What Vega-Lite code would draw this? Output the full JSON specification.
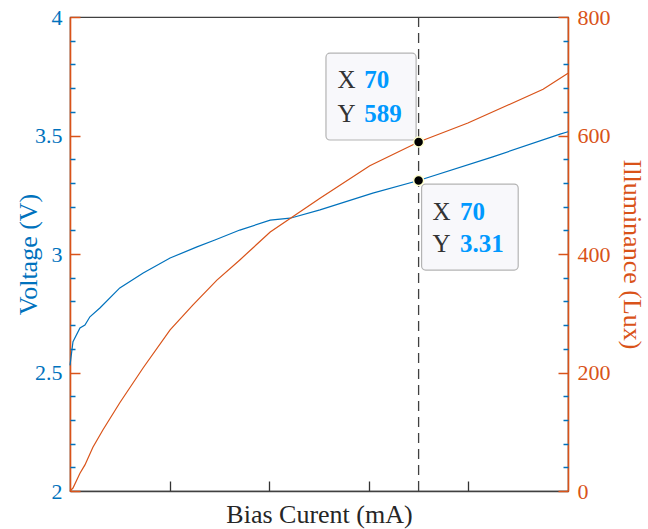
{
  "$schema": "https://vega.github.io/schema/vega-lite/v6.json",
  "width": 498,
  "height": 474,
  "autosize": {"type": "none"},
  "padding": {"left": 70, "top": 17, "right": 80, "bottom": 38},
  "config": {
    "view": {"stroke": "#404040", "strokeWidth": 1.2},
    "font": "Liberation Serif",
    "axis": {"grid": false, "labelFont": "Liberation Serif", "titleFont": "Liberation Serif", "labelFontSize": 22, "titleFontSize": 26, "titleFontWeight": "normal"},
    "axisX": {"labels": false, "tickSize": -10, "tickColor": "#333333", "tickWidth": 1.3, "domainColor": "#404040", "domainWidth": 1.3, "titleColor": "#262626", "titlePadding": 10, "titleFontSize": 26}
  },
  "datasets": {
    "volt": [
      {"I": 0, "V": 2.53}, {"I": 0.6, "V": 2.63}, {"I": 2.0, "V": 2.688}, {"I": 3.0, "V": 2.70},
      {"I": 4.0, "V": 2.735}, {"I": 6.0, "V": 2.772}, {"I": 10.0, "V": 2.857}, {"I": 14.7, "V": 2.92},
      {"I": 20.1, "V": 2.983}, {"I": 25.5, "V": 3.03}, {"I": 29.1, "V": 3.059}, {"I": 34.1, "V": 3.101},
      {"I": 40.2, "V": 3.143}, {"I": 44.2, "V": 3.151}, {"I": 50.2, "V": 3.186}, {"I": 60.8, "V": 3.257},
      {"I": 70, "V": 3.31}, {"I": 84.9, "V": 3.41}, {"I": 98.4, "V": 3.506}, {"I": 100, "V": 3.516}
    ],
    "lux": [
      {"I": 0, "L": 0}, {"I": 0.6, "L": 5}, {"I": 2.0, "L": 30}, {"I": 3.0, "L": 44}, {"I": 4.6, "L": 74},
      {"I": 6.6, "L": 103}, {"I": 10.0, "L": 149}, {"I": 14.7, "L": 208}, {"I": 20.1, "L": 272},
      {"I": 24.7, "L": 314}, {"I": 29.5, "L": 356}, {"I": 34.1, "L": 390}, {"I": 40.2, "L": 437}, {"I": 44.2, "L": 460},
      {"I": 50.2, "L": 494}, {"I": 60.2, "L": 549}, {"I": 70, "L": 589}, {"I": 79.9, "L": 621},
      {"I": 95, "L": 678}, {"I": 100, "L": 705}
    ],
    "tipV": [{"I": 70, "V": 3.31, "x1": 70.6, "x2": 90.0, "y1": 3.295, "y2": 2.932}],
    "tipL": [{"I": 70, "L": 589, "x1": 51.4, "x2": 69.5, "y1": 739, "y2": 592.4}],
    "txtV": [
      {"x": 72.8, "y": 3.143, "t": "X", "k": "key"}, {"x": 78.3, "y": 3.143, "t": "70", "k": "val"},
      {"x": 72.8, "y": 3.010, "t": "Y", "k": "key"}, {"x": 78.3, "y": 3.010, "t": "3.31", "k": "val"}
    ],
    "txtL": [
      {"x": 53.7, "y": 679.7, "t": "X", "k": "key"}, {"x": 59.1, "y": 679.7, "t": "70", "k": "val"},
      {"x": 53.7, "y": 623.3, "t": "Y", "k": "key"}, {"x": 59.1, "y": 623.3, "t": "589", "k": "val"}
    ]
  },
  "layer": [
    {
      "layer": [
        {
          "data": {"name": "volt"},
          "mark": {"type": "line", "color": "#0072BD", "strokeWidth": 1.2},
          "encoding": {
            "x": {"field": "I", "type": "quantitative", "scale": {"domain": [0, 100], "nice": false},
              "axis": {"title": "Bias Curent (mA)", "values": [20, 40, 60, 80]}},
            "y": {"field": "V", "type": "quantitative", "scale": {"domain": [2, 4], "nice": false, "zero": false},
              "axis": {"orient": "left", "values": [2, 2.5, 3, 3.5, 4], "format": "~g", "tickSize": -10, "tickColor": "#D95319", "tickWidth": 1.5, "domainColor": "#D95319", "domainWidth": 1.6, "labelColor": "#0072BD", "labelFontSize": 22, "labelFont": "Liberation Serif", "labelPadding": 18, "title": "Voltage (V)", "titleColor": "#0072BD", "titlePadding": -7}}
          }
        },
        {
          "data": {"name": "volt"},
          "mark": {"type": "line", "strokeOpacity": 0},
          "encoding": {
            "x": {"field": "I", "type": "quantitative"},
            "y": {"field": "V", "type": "quantitative",
              "axis": {"orient": "left", "values": [2.1, 2.2, 2.3, 2.4, 2.6, 2.7, 2.8, 2.9, 3.1, 3.2, 3.3, 3.4, 3.6, 3.7, 3.8, 3.9], "labels": false, "domain": false, "tickSize": -5, "tickColor": "#0072BD", "tickWidth": 1.5, "title": null}}
          }
        },
        {
          "data": {"name": "tipV"},
          "mark": {"type": "rule", "color": "#404040", "strokeDash": [10, 6], "strokeWidth": 1.3},
          "encoding": {"x": {"field": "I", "type": "quantitative"}}
        },
        {
          "data": {"name": "tipV"},
          "mark": {"type": "rect", "fill": "#f8f8fb", "stroke": "#b4b4b4", "strokeWidth": 1.2, "cornerRadius": 4},
          "encoding": {
            "x": {"field": "x1", "type": "quantitative"}, "x2": {"field": "x2"},
            "y": {"field": "y1", "type": "quantitative", "axis": null}, "y2": {"field": "y2"}
          }
        },
        {
          "data": {"name": "tipV"},
          "mark": {"type": "point", "filled": true, "fill": "#000000", "stroke": "#ffffcc", "strokeWidth": 1.5, "size": 100, "opacity": 1},
          "encoding": {
            "x": {"field": "I", "type": "quantitative"},
            "y": {"field": "V", "type": "quantitative", "axis": null}
          }
        },
        {
          "data": {"name": "txtV"},
          "transform": [{"filter": "datum.k === 'key'"}],
          "mark": {"type": "text", "align": "left", "baseline": "alphabetic", "fontSize": 25, "color": "#333333", "font": "Liberation Serif"},
          "encoding": {
            "x": {"field": "x", "type": "quantitative"},
            "y": {"field": "y", "type": "quantitative", "axis": null},
            "text": {"field": "t"}
          }
        },
        {
          "data": {"name": "txtV"},
          "transform": [{"filter": "datum.k === 'val'"}],
          "mark": {"type": "text", "align": "left", "baseline": "alphabetic", "fontSize": 25, "fontWeight": "bold", "color": "#0099FF", "font": "Liberation Serif"},
          "encoding": {
            "x": {"field": "x", "type": "quantitative"},
            "y": {"field": "y", "type": "quantitative", "axis": null},
            "text": {"field": "t"}
          }
        }
      ],
      "resolve": {"axis": {"y": "independent"}}
    },
    {
      "layer": [
        {
          "data": {"name": "lux"},
          "mark": {"type": "line", "color": "#D95319", "strokeWidth": 1.2},
          "encoding": {
            "x": {"field": "I", "type": "quantitative"},
            "y": {"field": "L", "type": "quantitative", "scale": {"domain": [0, 800], "nice": false},
              "axis": {"orient": "right", "values": [0, 200, 400, 600, 800], "tickSize": -10, "tickColor": "#D95319", "tickWidth": 1.5, "domainColor": "#D95319", "domainWidth": 1.6, "labelColor": "#D95319", "labelFontSize": 22, "labelFont": "Liberation Serif", "labelPadding": 19, "title": "Illuminance (Lux)", "titleColor": "#D95319", "titlePadding": 8}}
          }
        },
        {
          "data": {"name": "lux"},
          "mark": {"type": "line", "strokeOpacity": 0},
          "encoding": {
            "x": {"field": "I", "type": "quantitative"},
            "y": {"field": "L", "type": "quantitative",
              "axis": {"orient": "right", "values": [40, 80, 120, 160, 240, 280, 320, 360, 440, 480, 520, 560, 640, 680, 720, 760], "labels": false, "domain": false, "tickSize": -5, "tickColor": "#0072BD", "tickWidth": 1.5, "title": null}}
          }
        },
        {
          "data": {"name": "tipL"},
          "mark": {"type": "rect", "fill": "#f8f8fb", "stroke": "#b4b4b4", "strokeWidth": 1.2, "cornerRadius": 4},
          "encoding": {
            "x": {"field": "x1", "type": "quantitative"}, "x2": {"field": "x2"},
            "y": {"field": "y1", "type": "quantitative", "axis": null}, "y2": {"field": "y2"}
          }
        },
        {
          "data": {"name": "tipL"},
          "mark": {"type": "point", "filled": true, "fill": "#000000", "stroke": "#ffffcc", "strokeWidth": 1.5, "size": 100, "opacity": 1},
          "encoding": {
            "x": {"field": "I", "type": "quantitative"},
            "y": {"field": "L", "type": "quantitative", "axis": null}
          }
        },
        {
          "data": {"name": "txtL"},
          "transform": [{"filter": "datum.k === 'key'"}],
          "mark": {"type": "text", "align": "left", "baseline": "alphabetic", "fontSize": 25, "color": "#333333", "font": "Liberation Serif"},
          "encoding": {
            "x": {"field": "x", "type": "quantitative"},
            "y": {"field": "y", "type": "quantitative", "axis": null},
            "text": {"field": "t"}
          }
        },
        {
          "data": {"name": "txtL"},
          "transform": [{"filter": "datum.k === 'val'"}],
          "mark": {"type": "text", "align": "left", "baseline": "alphabetic", "fontSize": 25, "fontWeight": "bold", "color": "#0099FF", "font": "Liberation Serif"},
          "encoding": {
            "x": {"field": "x", "type": "quantitative"},
            "y": {"field": "y", "type": "quantitative", "axis": null},
            "text": {"field": "t"}
          }
        }
      ],
      "resolve": {"axis": {"y": "independent"}}
    }
  ],
  "resolve": {"scale": {"y": "independent"}}
}
